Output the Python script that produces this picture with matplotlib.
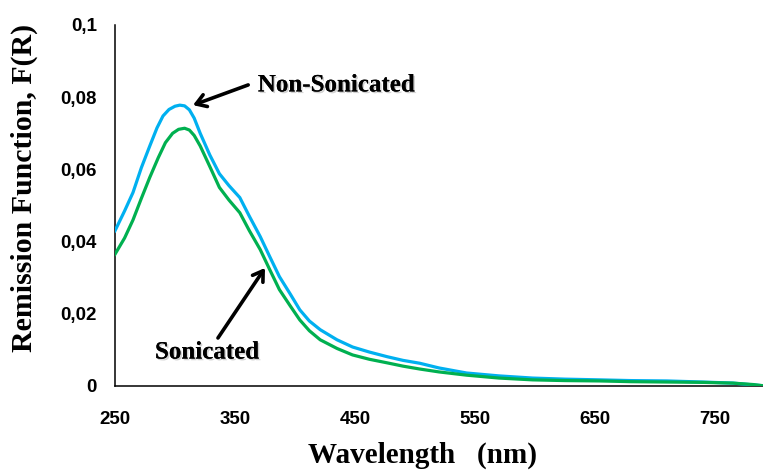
import matplotlib
matplotlib.use("Agg")
import matplotlib.pyplot as plt
import matplotlib.patheffects as pe

# ---- data ----
wl_non = [250, 258, 265, 272, 279, 285, 290, 295, 300, 304, 308, 312, 316, 321,
          329, 337, 345, 354, 362, 371, 379, 387, 396, 404, 412, 421, 435, 448,
          462, 477, 490, 504, 520, 543, 570, 598, 625, 654, 680, 710, 740, 765,
          782, 792]
f_non = [0.0430, 0.0485, 0.0536, 0.0605, 0.0665, 0.0715, 0.0748, 0.0766, 0.0775,
         0.0778, 0.0776, 0.0765, 0.0742, 0.0700, 0.0640, 0.0588, 0.0555, 0.0522,
         0.0470, 0.0414, 0.0358, 0.0303, 0.0255, 0.0211, 0.0180, 0.0156, 0.0128,
         0.0108, 0.0094, 0.0081, 0.0071, 0.0063, 0.0050, 0.0036, 0.0028, 0.0022,
         0.0019, 0.0017, 0.0015, 0.0014, 0.0011, 0.0008, 0.0003, 0.0]

wl_son = [250, 258, 265, 272, 279, 286, 292, 298, 303, 308, 312, 316, 321, 329,
          337, 345, 354, 362, 371, 379, 387, 396, 404, 412, 421, 435, 448, 462,
          477, 490, 504, 520, 543, 570, 598, 625, 654, 680, 710, 740, 765, 782,
          792]
f_son = [0.0365, 0.0410, 0.0460, 0.0520, 0.0578, 0.0632, 0.0674, 0.0700, 0.0711,
         0.0714, 0.0709, 0.0694, 0.0665, 0.0608, 0.0550, 0.0515, 0.0480, 0.0430,
         0.0378, 0.0322, 0.0267, 0.0222, 0.0183, 0.0153, 0.0128, 0.0104, 0.0086,
         0.0074, 0.0064, 0.0055, 0.0047, 0.0039, 0.0030, 0.0022, 0.0017, 0.0015,
         0.0014, 0.0012, 0.0011, 0.0010, 0.0008, 0.0004, 0.0]

x_ticks = [250, 350, 450, 550, 650, 750]
y_ticks = [0, 0.02, 0.04, 0.06, 0.08, 0.1]
y_tick_labels = ["0", "0,02", "0,04", "0,06", "0,08", "0,1"]

label_non = "Non-Sonicated"
label_son = "Sonicated"

W, H = 763, 471
fig = plt.figure(figsize=(W / 100, H / 100), dpi=100)
ax = fig.add_axes([115 / W, (H - 386) / H, 648 / W, 361 / H])

ax.plot(wl_non, f_non, color="#00B0F0", lw=2.3, solid_joinstyle="round", zorder=3)
ax.plot(wl_son, f_son, color="#00B050", lw=2.3, solid_joinstyle="round", zorder=4)

ax.set_xlim(250, 790)
ax.set_ylim(0, 0.1)
ax.set_xticks(x_ticks)
ax.set_xticklabels([str(v) for v in x_ticks])
ax.set_yticks(y_ticks)
ax.set_yticklabels(y_tick_labels)

for s in ["top", "right"]:
    ax.spines[s].set_visible(False)
for s in ["left", "bottom"]:
    ax.spines[s].set_color("black")
    ax.spines[s].set_linewidth(1.1)

ax.tick_params(axis="both", length=0)
ax.tick_params(axis="x", pad=18)
ax.tick_params(axis="y", pad=13)
for lab in ax.get_xticklabels() + ax.get_yticklabels():
    lab.set_fontfamily("Liberation Sans")
    lab.set_fontweight("bold")
    lab.set_fontsize(13.5)

shadow = [pe.withSimplePatchShadow(offset=(1.2, -1.2), shadow_rgbFace="gray", alpha=0.35), pe.Normal()]

# annotations
ax.annotate("", xy=(315, 0.0778), xytext=(361, 0.0834),
            arrowprops=dict(arrowstyle="->,head_length=0.7,head_width=0.45",
                            lw=2.6, color="black", shrinkA=0, shrinkB=0))
ax.text(369, 0.0834, label_non, family="Liberation Serif", fontweight="bold",
        fontsize=18, va="center", ha="left", path_effects=shadow)

ax.annotate("", xy=(375, 0.0327), xytext=(335.8, 0.0133),
            arrowprops=dict(arrowstyle="->,head_length=0.7,head_width=0.45",
                            lw=2.6, color="black", shrinkA=0, shrinkB=0))
ax.text(283.3, 0.0094, label_son, family="Liberation Serif", fontweight="bold",
        fontsize=18, va="center", ha="left", path_effects=shadow)

fig.text(24 / W, 1 - 188 / H, "Remission Function, F(R)", rotation=90,
         family="Liberation Serif", fontweight="bold", fontsize=21.5,
         ha="center", va="center")
fig.text(422 / W, 1 - 463 / H, "Wavelength   (nm)",
         family="Liberation Serif", fontweight="bold", fontsize=21,
         ha="center", va="baseline")

fig.savefig("out.png", dpi=100)
